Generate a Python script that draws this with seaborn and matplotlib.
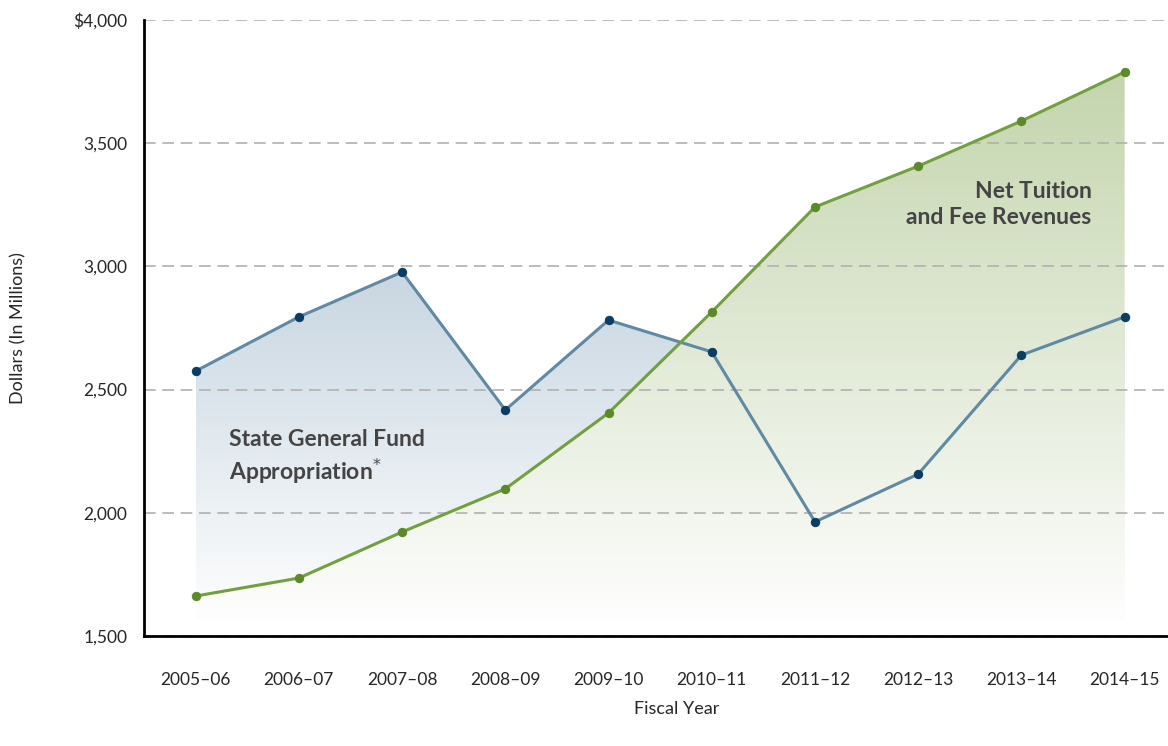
#!/usr/bin/env python3
"""State general fund appropriation vs. net tuition and fee revenues, 2005-06 to 2014-15."""

import matplotlib.pyplot as plt
import numpy as np
import seaborn as sns
from matplotlib.colors import to_rgb
from matplotlib.ticker import FuncFormatter, MultipleLocator

fiscal_years = ["2005\u201306", "2006\u201307", "2007\u201308", "2008\u201309", "2009\u201310",
                "2010\u201311", "2011\u201312", "2012\u201313", "2013\u201314", "2014\u201315"]
state_fund = [2575, 2795, 2977, 2417, 2782, 2653, 1963, 2157, 2640, 2795]
net_tuition = [1662, 1735, 1922, 2097, 2405, 2815, 3241, 3407, 3590, 3789]

BLUE_LINE, BLUE_DOT, BLUE_FILL = "#6089a3", "#0b3d63", "#c8d6e1"
GREEN_LINE, GREEN_DOT, GREEN_FILL = "#72a040", "#5c8a2a", "#c4d5ad"
FILL_BASE = 1565
Y_MIN, Y_MAX = 1500, 4000


def gradient_fill(ax, x, y, color, zorder):
    """Fill under a line with an opaque vertical fade from color to white."""
    poly = ax.fill_between(x, y, FILL_BASE, facecolor="none", edgecolor="none")
    top = max(y)
    h = 256
    t = np.linspace(1.0, 0.0, h)[:, None, None]
    rgb = np.array(to_rgb(color))[None, None, :]
    img = t * rgb + (1 - t) * np.array([0.995, 0.995, 0.995])[None, None, :]
    im = ax.imshow(img, aspect="auto", origin="upper",
                   extent=[min(x), max(x), FILL_BASE, top], zorder=zorder)
    im.set_clip_path(poly.get_paths()[0], transform=ax.transData)


def main() -> None:
    sns.set_style("white")
    plt.rcParams["font.family"] = ["Lato", "DejaVu Sans"]

    fig = plt.figure(figsize=(11.68, 7.46), dpi=100)
    ax = fig.add_axes([0.1233, 0.1475, 0.8767, 0.8257])
    x = np.arange(len(fiscal_years))

    gradient_fill(ax, x, state_fund, BLUE_FILL, 1)
    gradient_fill(ax, x, net_tuition, GREEN_FILL, 1.5)

    sns.lineplot(x=x, y=state_fund, ax=ax, color=BLUE_LINE, linewidth=2.2,
                 marker="o", markersize=6, markerfacecolor=BLUE_DOT,
                 markeredgecolor=BLUE_DOT, zorder=3)
    sns.lineplot(x=x, y=net_tuition, ax=ax, color=GREEN_LINE, linewidth=2.2,
                 marker="o", markersize=6, markerfacecolor=GREEN_DOT,
                 markeredgecolor=GREEN_DOT, zorder=4)

    ax.set_xlim(-0.5, 9.42)
    ax.set_ylim(Y_MIN, Y_MAX)

    ax.set_xticks(x)
    ax.set_xticklabels(fiscal_years, fontsize=12.5)
    ax.set_xticks(x[:-1] + 0.5, minor=True)
    ax.tick_params(axis="x", which="major", length=0, pad=26)
    ax.tick_params(axis="x", which="minor", direction="in", length=14, width=2, color="black")

    ax.yaxis.set_major_locator(MultipleLocator(500))
    ax.yaxis.set_major_formatter(FuncFormatter(
        lambda v, _: f"${v:,.0f}" if v == Y_MAX else f"{v:,.0f}"))
    ax.tick_params(axis="y", direction="in", length=26, width=1.5, color="black",
                   pad=12, labelsize=12.5)
    ax.grid(axis="y", color="#b0b0b0", linestyle=(0, (7, 4)), linewidth=1.2)
    ax.set_axisbelow(False)
    for gl in ax.get_ygridlines():
        gl.set_zorder(2)

    for side in ("top", "right"):
        ax.spines[side].set_visible(False)
    for side in ("left", "bottom"):
        ax.spines[side].set_color("black")
        ax.spines[side].set_linewidth(2)
        ax.spines[side].set_zorder(6)

    ax.set_xlabel("Fiscal Year", fontsize=13)
    ax.xaxis.set_label_coords(0.52, -0.105)
    ax.set_ylabel("Dollars (In Millions)", fontsize=13)
    ax.yaxis.set_label_coords(-0.115, 0.5)

    ax.text(0.32, 2340, "State General Fund\nAppropriation$^{*}$", ha="left", va="top",
            fontsize=16.5, fontweight="bold", color="#444444", linespacing=1.3, zorder=5)
    ax.text(8.68, 3345, "Net Tuition\nand Fee Revenues", ha="right", va="top",
            multialignment="right", fontsize=16.5, fontweight="bold", color="#444444",
            linespacing=1.3, zorder=5)

    fig.savefig("out.png", dpi=100)
    plt.close(fig)


if __name__ == "__main__":
    main()
